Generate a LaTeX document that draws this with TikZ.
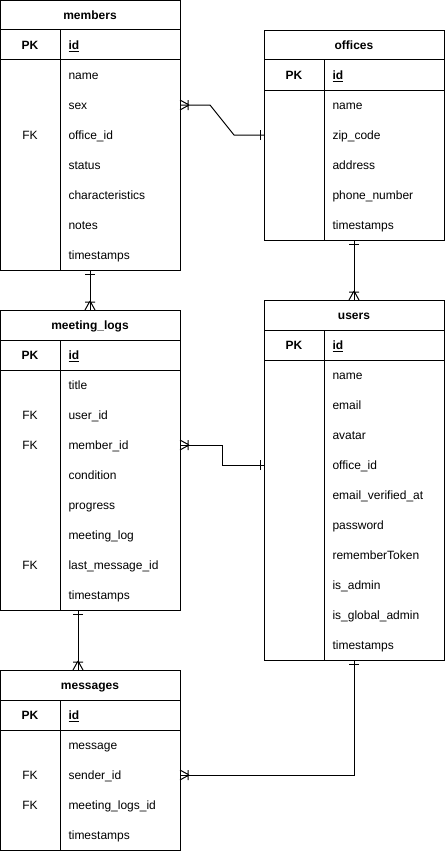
\documentclass[tikz,border=0pt]{standalone}
\usepackage{fontspec}
\setmainfont{Liberation Sans}
\usetikzlibrary{calc}
\begin{document}
\begin{tikzpicture}[x=1pt,y=1pt,line width=1pt,
  txt/.style={inner sep=0pt,anchor=base,font=\fontsize{12}{14}\selectfont},
  rowtxt/.style={txt,anchor=base west},
  tblbox/.style={draw,minimum width=180pt,minimum height=#1,anchor=north west,inner sep=0pt}]
\useasboundingbox (0,0) rectangle (445,-851);
\newcommand{\ertable}[6]{% name, x, y, height, title, rows
 \begin{scope}[shift={(#2,-#3)}]
  \node[tblbox=#4] (#1) at (0,0) {};
  \draw (0,-30)--(180,-30) (0,-60)--(180,-60) (60,-30)--(60,-#4);
  \node[txt] (#1-title) at (90,-19.3) {\bfseries #5};
  \node[txt] (#1-pk) at (30,-49.3) {\bfseries PK};
  \node[rowtxt] (#1-id) at (68,-49.3) {\bfseries\underline{id}};
  \foreach [count=\i] \k/\t in {#6} {
    \node[txt] (#1-k\i) at (30,-49.3-30*\i) {\k};
    \node[rowtxt] (#1-r\i) at (68,-49.3-30*\i) {\t};
  }
 \end{scope}}
\newcommand{\crowfoot}[2]{\begin{scope}[shift={(#1)},rotate=#2]\draw (9,0)--(0,5) (9,0)--(0,-5) (8,5)--(8,-5);\end{scope}}
\newcommand{\onebar}[2]{\begin{scope}[shift={(#1)},rotate=#2]\draw (4,5)--(4,-5);\end{scope}}

\ertable{members}{0}{0}{270}{members}{/name,/sex,FK/office\_id,/status,/characteristics,/notes,/timestamps}
\ertable{offices}{264}{30}{210}{offices}{/name,/zip\_code,/address,/phone\_number,/timestamps}
\ertable{mlogs}{0}{310}{300}{meeting\_logs}{/title,FK/user\_id,FK/member\_id,/condition,/progress,/meeting\_log,FK/last\_message\_id,/timestamps}
\ertable{users}{264}{300}{360}{users}{/name,/email,/avatar,/office\_id,/email\_verified\_at,/password,/rememberToken,/is\_admin,/is\_global\_admin,/timestamps}
\ertable{messages}{0}{670}{180}{messages}{/message,FK/sender\_id,FK/meeting\_logs\_id,/timestamps}

% connector members.sex -- offices
\coordinate (c1a) at (180,-105);
\coordinate (c1b) at (264,-135);
\draw (c1a) -- ++(30,0) -- ($(c1b)+(-30,0)$) -- (c1b);
\crowfoot{c1a}{0}\onebar{c1b}{180}
% members -- meeting_logs
\coordinate (c2a) at (90,-270);
\coordinate (c2b) at (90,-310);
\draw (c2a) -- (c2b);
\onebar{c2a}{-90}\crowfoot{c2b}{90}
% offices -- users
\coordinate (c3a) at (354,-240);
\coordinate (c3b) at (354,-300);
\draw (c3a) -- (c3b);
\onebar{c3a}{-90}\crowfoot{c3b}{90}
% meeting_logs.member_id -- users.office_id
\coordinate (c4a) at (180,-445);
\coordinate (c4b) at (264,-465);
\draw (c4a) -- (222,-445) -- (222,-465) -- (c4b);
\crowfoot{c4a}{0}\onebar{c4b}{180}
% meeting_logs -- messages
\coordinate (c5a) at (78,-610);
\coordinate (c5b) at (78,-670);
\draw (c5a) -- (c5b);
\onebar{c5a}{-90}\crowfoot{c5b}{90}
% users -- messages.sender_id
\coordinate (c6a) at (354,-660);
\coordinate (c6b) at (180,-775);
\draw (c6a) -- (c6a |- c6b) -- (c6b);
\onebar{c6a}{-90}\crowfoot{c6b}{0}
\end{tikzpicture}
\end{document}
